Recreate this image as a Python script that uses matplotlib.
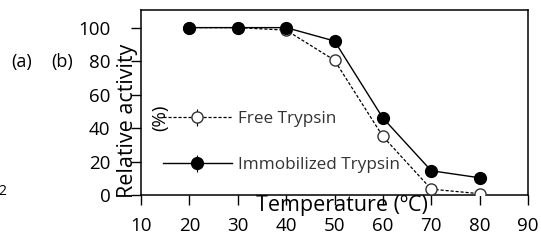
import matplotlib.pyplot as plt

# data
temperature = [20, 30, 40, 50, 60, 70, 80]
free_trypsin = [100, 100, 98.5, 80.5, 35, 3.5, 0.8]
free_err = [1.5, 1.5, 1.5, 2, 2, 1, 1]
immobilized_trypsin = [100, 100, 100, 92, 46, 14.5, 10.3]
immobilized_err = [1, 1.5, 1, 1, 1, 1, 1]
x_ticks = [10, 20, 30, 40, 50, 60, 70, 80, 90]
y_ticks = [0, 20, 40, 60, 80, 100]

plt.rcParams["font.family"] = ["Open Sans", "DejaVu Sans"]
plt.rcParams["savefig.dpi"] = 100

fig = plt.figure(figsize=(5.41, 2.45))
ax = fig.add_axes([0.2606, 0.204, 0.7154, 0.755])

ax.errorbar(temperature, free_trypsin, yerr=free_err, color="black", linestyle=(0, (2.5, 1.5)),
            linewidth=0.9, marker="o", markersize=8, markerfacecolor="white",
            markeredgecolor="#333333", markeredgewidth=1.0, capsize=0, elinewidth=0.8,
            label="Free Trypsin", zorder=3)
ax.errorbar(temperature, immobilized_trypsin, yerr=immobilized_err, color="black", linestyle="-",
            linewidth=1.0, marker="o", markersize=8.5, markerfacecolor="black",
            markeredgecolor="black", capsize=0, elinewidth=0.8,
            label="Immobilized Trypsin", zorder=4)

ax.set_xlim(10, 90)
ax.set_ylim(0, 110.5)
ax.set_xticks(x_ticks)
ax.set_yticks(y_ticks)
ax.tick_params(axis="x", direction="out", length=7, width=1, pad=9, labelsize=13.5)
ax.tick_params(axis="y", direction="out", length=7, width=1, pad=15, labelsize=13.5)
for s in ax.spines.values():
    s.set_linewidth(1.1)

# axis titles
ax.text(0.52, -0.055, "Temperature (\u00baC)", transform=ax.transAxes, ha="center", va="center",
        fontsize=15.5)
ax.text(-0.035, 0.40, "Relative activity", transform=ax.transAxes, ha="center", va="center",
        rotation=90, fontsize=15.5)
ax.text(0.05, 0.42, "(%)", transform=ax.transAxes, ha="center", va="center",
        rotation=90, fontsize=13.5)

# panel labels
fig.text(0.04, 0.745, "(a)", ha="center", va="center", fontsize=13)
fig.text(0.115, 0.745, "(b)", ha="center", va="center", fontsize=13)
fig.text(0.004, 0.22, "2", ha="center", va="center", fontsize=10)

leg = ax.legend(loc="upper left", bbox_to_anchor=(0.04, 0.49), frameon=False, fontsize=12.3,
                handlelength=4.0, handletextpad=0.4, labelspacing=1.75, borderaxespad=0)
for t in leg.get_texts():
    t.set_color("#333333")

plt.savefig("out.png")
